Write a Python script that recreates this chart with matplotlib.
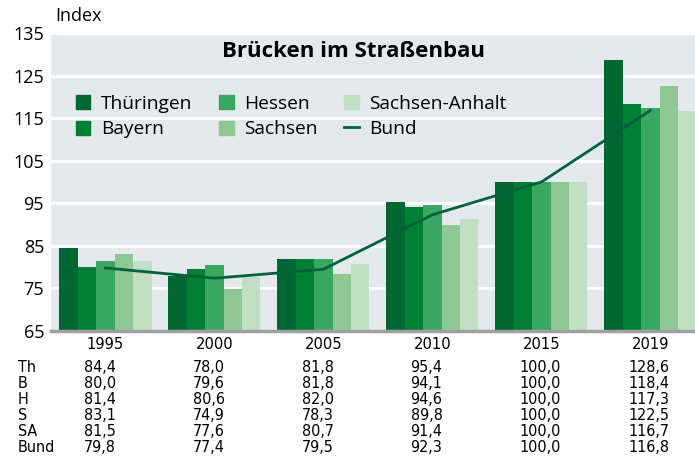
import matplotlib
matplotlib.use("Agg")
import matplotlib.pyplot as plt
import matplotlib.transforms as mtrans
from matplotlib.patches import Patch
from matplotlib.lines import Line2D
import numpy as np

years = ["1995", "2000", "2005", "2010", "2015", "2019"]
thueringen = [84.4, 78.0, 81.8, 95.4, 100.0, 128.6]
bayern = [80.0, 79.6, 81.8, 94.1, 100.0, 118.4]
hessen = [81.4, 80.6, 82.0, 94.6, 100.0, 117.3]
sachsen = [83.1, 74.9, 78.3, 89.8, 100.0, 122.5]
sachsen_anhalt = [81.5, 77.6, 80.7, 91.4, 100.0, 116.7]
bund = [79.8, 77.4, 79.5, 92.3, 100.0, 116.8]

series_names = ["Thüringen", "Bayern", "Hessen", "Sachsen", "Sachsen-Anhalt"]
series_vals = [thueringen, bayern, hessen, sachsen, sachsen_anhalt]
row_labels = ["Th", "B", "H", "S", "SA", "Bund"]
colors = ["#006632", "#008035", "#3aa862", "#8fc795", "#c1dfc3"]
line_color = "#00613a"

main_font = ["Open Sans", "DejaVu Sans"]
tab_font = ["DejaVu Sans"]

fig = plt.figure(figsize=(6.95, 4.59), dpi=100)
ax = fig.add_axes([51/695, 1-331/459, 1-51/695, (331-33)/459])
ax.set_facecolor("#e4e9ed")

x = np.arange(len(years))
w = 0.169
for i, (name, vals) in enumerate(zip(series_names, series_vals)):
    ax.bar(x + (i-2)*w, vals, width=w, color=colors[i], label=name, zorder=2)
ax.plot(x, bund, color=line_color, lw=2, zorder=3, label="Bund")

ax.set_xlim(-0.5, 5.41)
ax.set_ylim(65, 135)
ax.set_yticks(range(65, 136, 10))
ax.yaxis.grid(True, color="white", lw=2)
ax.set_axisbelow(True)
for s in ["top", "right", "left"]:
    ax.spines[s].set_visible(False)
ax.spines["bottom"].set_color("#a0a0a0")
ax.spines["bottom"].set_linewidth(2.5)
ax.tick_params(axis="y", length=0, pad=5, labelsize=13)
for lab in ax.get_yticklabels():
    lab.set_family(main_font)
ax.set_xticks(x)
ax.set_xticklabels(years, family=tab_font, fontsize=11.8, fontstretch="condensed")
ax.tick_params(axis="x", length=0, pad=4)

fig.text(55/695, 1-16/459, "Index", family=main_font, fontsize=13, va="center", ha="left")

ax.text(0.469, 0.937, "Brücken im Straßenbau", transform=ax.transAxes,
        family=main_font, fontsize=16, fontweight="bold", ha="center", va="center")

handles = [Patch(color=c) for c in colors] + [Line2D([], [], color=line_color, lw=2)]
labels = series_names + ["Bund"]
leg = ax.legend(handles, labels, ncol=3, loc="upper left",
                bbox_to_anchor=(76/695, 1-95/459), bbox_transform=fig.transFigure,
                frameon=False, prop={"family": main_font, "size": 13.8},
                handlelength=0.75, handleheight=0.75, handletextpad=0.55,
                columnspacing=1.4, labelspacing=0.38, borderaxespad=0, borderpad=0)

trans = mtrans.blended_transform_factory(ax.transData, fig.transFigure)
table_rows = series_vals + [bund]
row_y = [367, 383, 399, 415, 431, 447]
for r, (lab, vals) in enumerate(zip(row_labels, table_rows)):
    fig.text(18/695, 1-row_y[r]/459, lab, family=tab_font, fontsize=11.5,
             fontstretch="condensed", va="center", ha="left")
    for j, v in enumerate(vals):
        ax.text(x[j]-0.2, 1-row_y[r]/459, f"{v:.1f}".replace(".", ","), transform=trans,
                family=tab_font, fontsize=11.5, fontstretch="condensed",
                va="center", ha="left", clip_on=False)

fig.savefig("out.png", dpi=100)
